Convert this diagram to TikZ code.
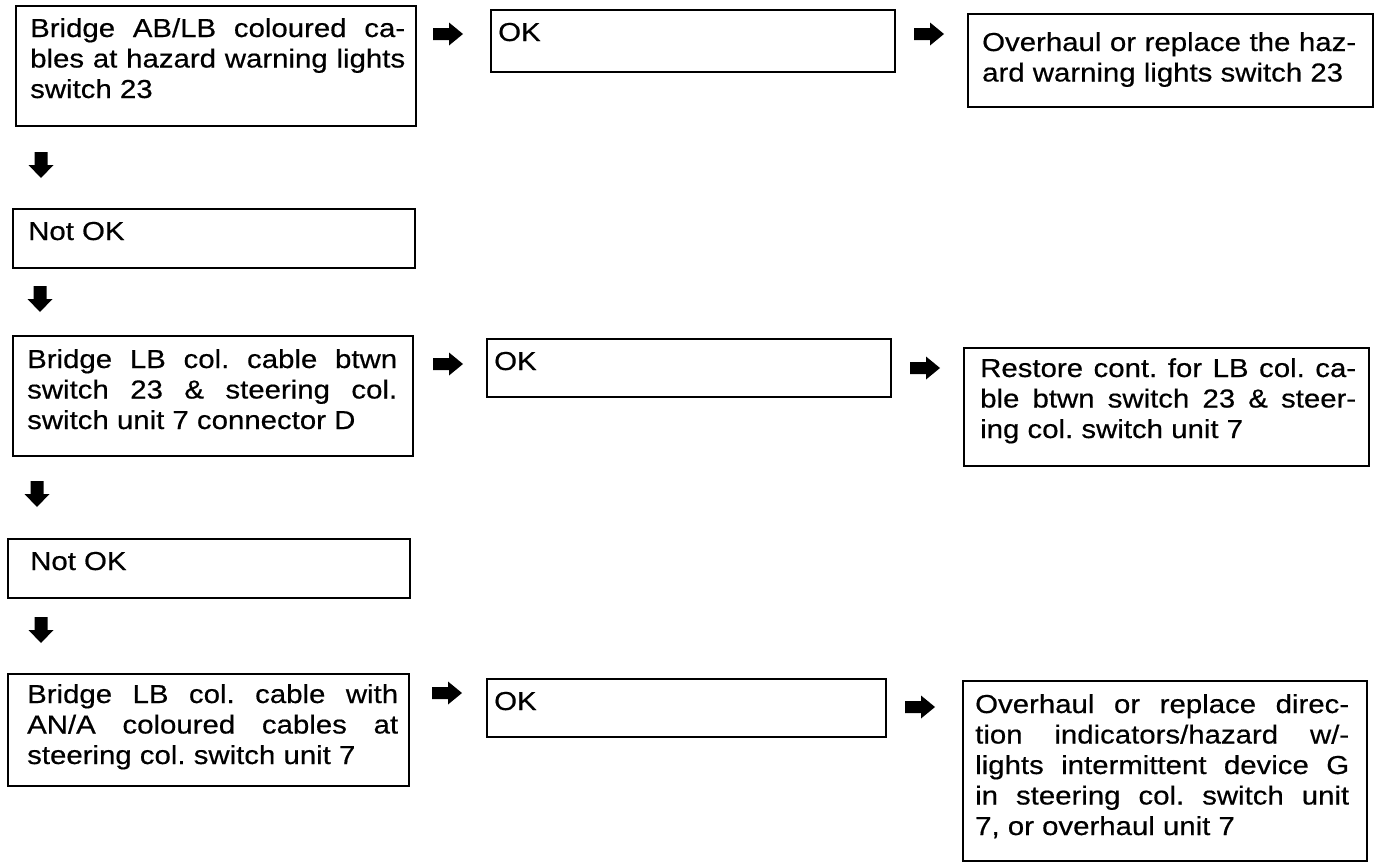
\documentclass[tikz,border=0pt]{standalone}
\usepackage{fontspec}
\setmainfont[FakeStretch=1.13,FakeBold=0.5]{Liberation Sans}
\newcommand\jl[2]{\makebox[#1][s]{#2}}
\begin{document}
\begin{tikzpicture}[x=1pt,y=-1pt,
  box/.style={draw, line width=1.6pt, inner sep=0pt, anchor=north west},
  txt/.style={inner sep=0pt, anchor=base west, font=\fontsize{26}{30.5}\selectfont\frenchspacing},
  rarr/.pic={\fill (-15,-6) -- (1,-6) -- (1,-11.5) -- (15,0) -- (1,11.5) -- (1,6) -- (-15,6) -- cycle;},
  darr/.pic={\fill (-6.5,-13) -- (6.5,-13) -- (6.5,0) -- (12.5,0) -- (0,13) -- (-12.5,0) -- (-6.5,0) -- cycle;}]
\useasboundingbox (0,0) rectangle (1375,862);

% row 1
\node[box, minimum width=400pt, minimum height=120pt] (b1) at (15,5) {};
\node[txt] (t1) at (30,37) {\parbox[t]{420pt}{\jl{375pt}{Bridge AB/LB coloured ca-}\\\jl{375pt}{bles at hazard warning lights}\\switch 23}};
\coordinate (r1) at (448,34); \pic at (r1) {rarr};
\node[box, minimum width=404pt, minimum height=62pt] (ok1) at (490,9) {};
\node[txt] (tok1) at (498,41) {OK};
\coordinate (r2) at (929,34); \pic at (r2) {rarr};
\node[box, minimum width=405pt, minimum height=93pt] (b3) at (967,13) {};
\node[txt] (t3) at (982,51) {\parbox[t]{420pt}{\jl{374pt}{Overhaul or replace the haz-}\\ard warning lights switch 23}};

\coordinate (d1) at (41,165); \pic at (d1) {darr};
\node[box, minimum width=402pt, minimum height=59pt] (n1) at (12,208) {};
\node[txt] (tn1) at (28,240) {Not OK};
\coordinate (d2) at (40,299); \pic at (d2) {darr};

% row 2
\node[box, minimum width=400pt, minimum height=120pt] (b4) at (12,335) {};
\node[txt] (t4) at (27,368) {\parbox[t]{420pt}{\jl{370pt}{Bridge LB col. cable btwn}\\\jl{370pt}{switch 23 \& steering col.}\\switch unit 7 connector D}};
\coordinate (r3) at (448,364); \pic at (r3) {rarr};
\node[box, minimum width=404pt, minimum height=58pt] (ok2) at (486,338) {};
\node[txt] (tok2) at (494,370) {OK};
\coordinate (r4) at (925,368); \pic at (r4) {rarr};
\node[box, minimum width=405pt, minimum height=118pt] (b6) at (963,347) {};
\node[txt] (t6) at (980,377) {\parbox[t]{420pt}{\jl{376pt}{Restore cont. for LB col. ca-}\\\jl{376pt}{ble btwn switch 23 \& steer-}\\ing col. switch unit 7}};

\coordinate (d3) at (37,494); \pic at (d3) {darr};
\node[box, minimum width=402pt, minimum height=59pt] (n2) at (7,538) {};
\node[txt] (tn2) at (30,570) {Not OK};
\coordinate (d4) at (41,630); \pic at (d4) {darr};

% row 3
\node[box, minimum width=401pt, minimum height=112pt] (b7) at (7,673) {};
\node[txt] (t7) at (27,703) {\parbox[t]{420pt}{\jl{371pt}{Bridge LB col. cable with}\\\jl{371pt}{AN/A coloured cables at}\\steering col. switch unit 7}};
\coordinate (r5) at (447,693); \pic at (r5) {rarr};
\node[box, minimum width=399pt, minimum height=58pt] (ok3) at (486,678) {};
\node[txt] (tok3) at (494,710) {OK};
\coordinate (r6) at (920,707); \pic at (r6) {rarr};
\node[box, minimum width=404pt, minimum height=180pt] (b9) at (962,680) {};
\node[txt] (t9) at (975,713) {\parbox[t]{420pt}{\jl{374pt}{Overhaul or replace direc-}\\\jl{374pt}{tion indicators/hazard w/-}\\\jl{374pt}{lights intermittent device G}\\\jl{374pt}{in steering col. switch unit}\\7, or overhaul unit 7}};
\end{tikzpicture}
\end{document}
